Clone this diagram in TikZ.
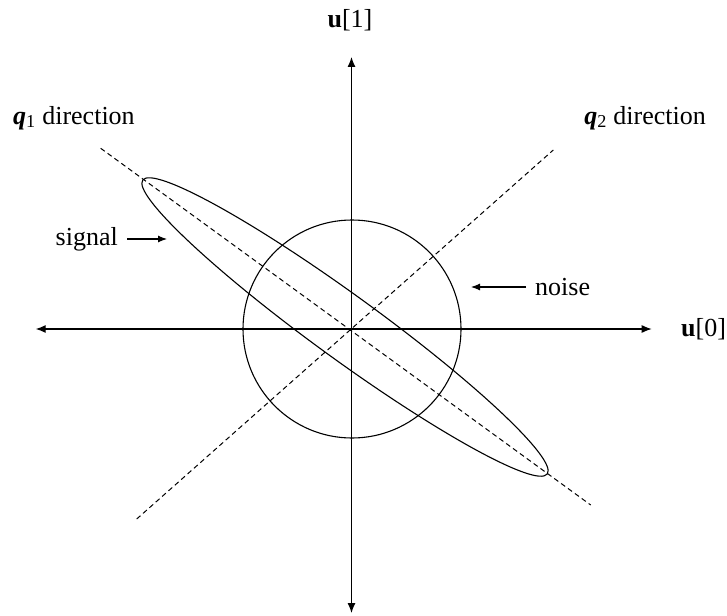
\documentclass[tikz,border=0pt]{standalone}
\usepackage{fontspec}
\setmainfont{Liberation Serif}
\usetikzlibrary{arrows.meta}
\begin{document}
\begin{tikzpicture}[x=1pt,y=-1pt,
  axis/.style={line width=1.2pt,{Latex[length=10pt,width=8pt]}-{Latex[length=10pt,width=8pt]}},
  qline/.style={line width=1pt,dash pattern=on 5pt off 3.5pt},
  curve/.style={line width=1.1pt},
  lbl/.style={font=\fontsize{26}{30}\selectfont,inner sep=0pt},
  pointer/.style={line width=1.1pt,-{Latex[length=9pt,width=7pt]}}]
\useasboundingbox (0,0) rectangle (727,615);
% axes
\coordinate (O) at (351.5,329);
\coordinate (L) at (35.7,329);
\coordinate (R) at (651.7,329);
\coordinate (T) at (351.5,57);
\coordinate (B) at (351.5,613);
\draw[axis] (L) -- (R);
\draw[axis] (T) -- (B);
% direction lines
\coordinate (q1a) at (100.7,148.3);
\coordinate (q1b) at (590.7,505);
\coordinate (q2a) at (136.7,519);
\coordinate (q2b) at (553.3,150);
\draw[qline] (q1a) -- (q1b);
\draw[qline] (q2a) -- (q2b);
% noise circle
\draw[curve] (352,329) circle [radius=109];
% signal ellipse
\coordinate (E) at (345,327);
\draw[curve, shift={(E)}, rotate=-36] (0,0) ellipse [x radius=250, y radius=32];
% labels
\node[lbl] (u1) at (350,20) {\textbf{u}[1]};
\node[lbl,anchor=west] (u0) at (681,329) {\textbf{u}[0]};
\node[lbl,anchor=west] (q1) at (13,118) {\textbf{\textit{q}}\textsubscript{1} direction};
\node[lbl,anchor=east] (q2) at (706,118) {\textbf{\textit{q}}\textsubscript{2} direction};
\node[lbl,anchor=east] (sig) at (118,239) {signal};
\coordinate (sigtip) at (167,239);
\draw[pointer,shorten <=9pt] (sig.east) -- (sigtip);
\node[lbl,anchor=west] (noise) at (535,287) {noise};
\coordinate (noisetip) at (471,287);
\draw[pointer,shorten <=9pt] (noise.west) -- (noisetip);
\end{tikzpicture}
\end{document}
